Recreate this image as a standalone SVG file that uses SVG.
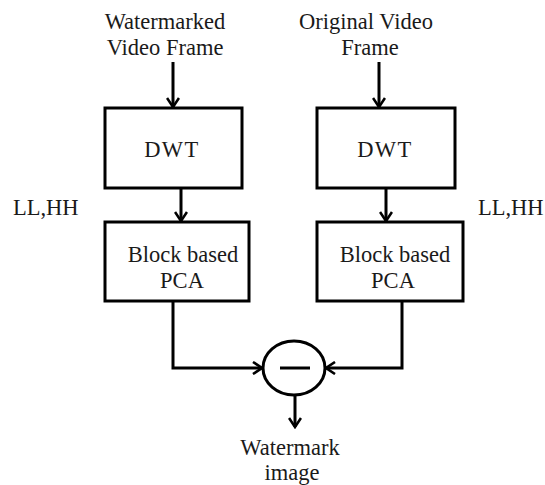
<svg xmlns="http://www.w3.org/2000/svg" width="545" height="485" viewBox="0 0 545 485">
<style>
.box{fill:#fff;stroke:#000;stroke-width:3}
.ln{fill:none;stroke:#000;stroke-width:3}
text{font-family:"Liberation Serif","Times New Roman",serif;font-size:22.5px;fill:#1a1a1a}
.sp{letter-spacing:1.5px}
</style>
<defs>
<marker id="ah" viewBox="0 0 14 14" refX="12" refY="7" markerWidth="14" markerHeight="14" markerUnits="userSpaceOnUse" orient="auto">
<path d="M3,1 L12,7 L3,13" fill="none" stroke="#000" stroke-width="2.6"/>
</marker>
</defs>
<rect width="545" height="485" fill="#fff"/>
<g id="label-watermarked">
<text x="165" y="29" text-anchor="middle">Watermarked</text>
<text x="165" y="55" text-anchor="middle">Video Frame</text>
</g>
<g id="label-original">
<text x="366" y="29" text-anchor="middle">Original Video</text>
<text x="370" y="55" text-anchor="middle">Frame</text>
</g>
<g id="dwt-left">
<rect class="box" x="105" y="108" width="137" height="80"/>
<text class="sp" x="172" y="157" text-anchor="middle">DWT</text>
</g>
<g id="dwt-right">
<rect class="box" x="317" y="108" width="138" height="80"/>
<text class="sp" x="385" y="157" text-anchor="middle">DWT</text>
</g>
<g id="pca-left">
<rect class="box" x="105" y="222" width="144" height="79"/>
<text x="183" y="262" text-anchor="middle">Block based</text>
<text x="182" y="288" text-anchor="middle">PCA</text>
</g>
<g id="pca-right">
<rect class="box" x="317" y="222" width="146" height="79"/>
<text x="395" y="262" text-anchor="middle">Block based</text>
<text x="393" y="288" text-anchor="middle">PCA</text>
</g>
<g id="label-llhh-left"><text x="13" y="215">LL,HH</text></g>
<g id="label-llhh-right"><text x="478" y="215">LL,HH</text></g>
<g id="subtract">
<ellipse class="ln" cx="294" cy="368" rx="31" ry="27"/>
<line x1="280" y1="368" x2="310" y2="368" stroke="#000" stroke-width="3"/>
</g>
<g id="label-output">
<text x="290" y="455" text-anchor="middle">Watermark</text>
<text x="292" y="480" text-anchor="middle">image</text>
</g>
<g id="connectors">
<line class="ln" x1="173" y1="62" x2="173" y2="107" marker-end="url(#ah)"/>
<line class="ln" x1="379" y1="62" x2="379" y2="107" marker-end="url(#ah)"/>
<line class="ln" x1="181" y1="188" x2="181" y2="221" marker-end="url(#ah)"/>
<line class="ln" x1="386" y1="188" x2="386" y2="221" marker-end="url(#ah)"/>
<path class="ln" d="M173,301 V368 H262" marker-end="url(#ah)"/>
<path class="ln" d="M402,301 V368 H326" marker-end="url(#ah)"/>
<line class="ln" x1="295" y1="395" x2="295" y2="427" marker-end="url(#ah)"/>
</g>
</svg>
